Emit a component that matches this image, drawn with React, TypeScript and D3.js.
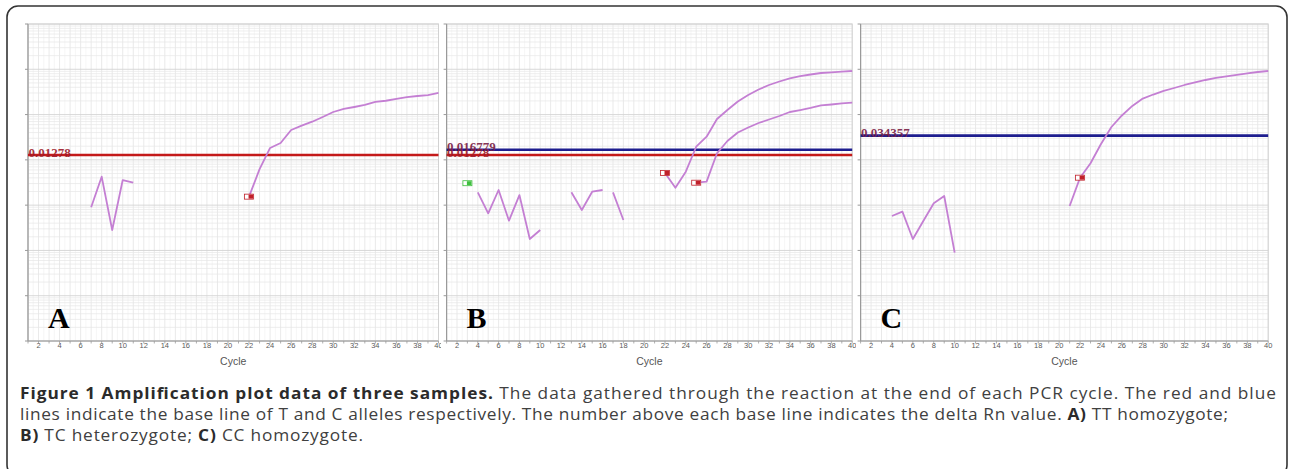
import React from "react";
import * as d3 from "d3";

// x categories (PCR cycle) and tick labels
const cycles = [1, 2, 3, 4, 5, 6, 7, 8, 9, 10, 11, 12, 13, 14, 15, 16, 17, 18, 19, 20,
  21, 22, 23, 24, 25, 26, 27, 28, 29, 30, 31, 32, 33, 34, 35, 36, 37, 38, 39, 40];
const cycleTicks = [2, 4, 6, 8, 10, 12, 14, 16, 18, 20, 22, 24, 26, 28, 30, 32, 34, 36, 38, 40];
const decades = [1e-6, 1e-5, 1e-4, 1e-3, 1e-2, 1e-1, 1, 10];

// delta Rn per cycle (null = no value on the log plot)
const curveA = [null, null, null, null, null, null, 0.000897, 0.00425, 0.000283, 0.00358,
  0.00313, null, null, null, null, null, null, null, null, null,
  null, 0.00154, 0.00622, 0.0183, 0.0236, 0.0457, 0.0568, 0.0696, 0.0885, 0.114,
  0.133, 0.147, 0.163, 0.19, 0.202, 0.221, 0.244, 0.257, 0.27, 0.3];
const curveB1 = [null, null, null, 0.00192, 0.000661, 0.00216, 0.000454, 0.00167, 0.000179, 0.000283,
  null, null, null, null, null, null, 0.00192, 0.00047, null, null,
  null, 0.00513, 0.00243, 0.00548, 0.0195, 0.0325, 0.0798, 0.126, 0.194, 0.27,
  0.358, 0.45, 0.537, 0.632, 0.703, 0.767, 0.828, 0.859, 0.889, 0.916];
const curveB2 = [null, null, null, null, null, null, null, null, null, null,
  null, null, 0.00192, 0.000783, 0.00198, 0.00216, null, null, null, null,
  null, null, null, null, 0.00313, 0.0033, 0.014, 0.0261, 0.0402, 0.0519,
  0.0652, 0.0778, 0.0931, 0.114, 0.126, 0.14, 0.159, 0.167, 0.176, 0.183];
const curveC = [null, null, null, 0.000577, 0.000718, 0.000179, 0.000447, 0.0011, 0.00159, 0.0000891,
  null, null, null, null, null, null, null, null, null, null,
  0.000958, 0.00404, 0.0084, 0.0224, 0.0532, 0.0955, 0.155, 0.226, 0.277, 0.332,
  0.386, 0.45, 0.511, 0.58, 0.643, 0.7, 0.755, 0.815, 0.871, 0.916];

// thresholds (delta Rn) : T allele red, C allele blue
const thresholdsA = [{ allele: "T", value: 0.01278, label: "0.01278" }];
const thresholdsB = [
  { allele: "T", value: 0.01278, label: "0.01278" },
  { allele: "C", value: 0.016779, label: "0.016779" },
];
const thresholdsC = [{ allele: "C", value: 0.034357, label: "0.034357" }];

// Ct markers
const markersA = [{ cycle: 22, value: 0.00154, kind: "ct" }];
const markersB = [
  { cycle: 3, value: 0.00305, kind: "start" },
  { cycle: 22, value: 0.00513, kind: "ct" },
  { cycle: 25, value: 0.00313, kind: "ct" },
];
const markersC = [{ cycle: 22, value: 0.00404, kind: "ct" }];

const panels = [
  { letter: "A", curves: [curveA], thresholds: thresholdsA, markers: markersA, x0: 28, x1: 438.5, bg: 22 },
  { letter: "B", curves: [curveB1, curveB2], thresholds: thresholdsB, markers: markersB, x0: 446.6, x1: 852.2, bg: 441 },
  { letter: "C", curves: [curveC], thresholds: thresholdsC, markers: markersC, x0: 860.6, x1: 1268.2, bg: 856 },
];

const W = 1289;
const H = 469;
const top = 24;
const bottom = 341;

const y = d3.scaleLog().domain([1e-6, 10]).range([bottom, top]);
const minorTicks = decades.slice(0, -1).flatMap(d => [2, 3, 4, 5, 6, 7, 8, 9].map(k => d * k));

const lineColor = { T: "#c41a1a", C: "#1e1e8f" };

const Panel = ({ p }) => {
  const x = d3.scaleLinear().domain([1, 40]).range([p.x0, p.x1]);
  const line = d3.line()
    .defined(d => d[1] != null)
    .x(d => x(d[0]))
    .y(d => y(d[1]));
  const cx = (p.x0 + p.x1) / 2;
  return (
    <g>
      <rect x={p.bg} y={18} width={p.x1 - p.bg + 3} height={356} fill="#fff" />
      {cycles.map(c => (
        <line key={"v" + c} x1={x(c)} x2={x(c)} y1={top} y2={bottom} stroke="#e3e3e3" strokeWidth={0.8} />
      ))}
      {cycles.slice(0, -1).map(c => (
        <line key={"vh" + c} x1={x(c + 0.5)} x2={x(c + 0.5)} y1={top} y2={bottom} stroke="#f0f0f0" strokeWidth={0.6} />
      ))}
      {minorTicks.map((t, i) => (
        <line key={"m" + i} x1={p.x0} x2={p.x1} y1={y(t)} y2={y(t)} stroke="#e6e6e6" strokeWidth={0.7} />
      ))}
      {decades.map(t => (
        <line key={"d" + t} x1={p.x0} x2={p.x1} y1={y(t)} y2={y(t)} stroke="#d4d4d4" strokeWidth={0.9} />
      ))}
      <rect x={p.x0} y={top} width={p.x1 - p.x0} height={bottom - top} fill="none" stroke="#d2d2d2" strokeWidth={1} />
      <line x1={p.x0} x2={p.x0} y1={top} y2={bottom} stroke="#9a9a9a" strokeWidth={1.2} />
      <line x1={p.x0} x2={p.x1} y1={bottom} y2={bottom} stroke="#9a9a9a" strokeWidth={1.2} />
      {decades.map(t => (
        <line key={"yt" + t} x1={p.x0 - 3} x2={p.x0} y1={y(t)} y2={y(t)} stroke="#9a9a9a" />
      ))}
      {cycles.map(c => (
        <line key={"xt" + c} x1={x(c)} x2={x(c)} y1={bottom} y2={bottom + 2.5} stroke="#9a9a9a" strokeWidth={0.8} />
      ))}
      {cycleTicks.map(c => (
        <text key={"xl" + c} x={x(c)} y={347.5} fontSize={7.5} fill="#5a5a5a" textAnchor="middle"
          fontFamily="Liberation Sans, Arial, sans-serif">{c}</text>
      ))}
      <text x={cx} y={365} fontSize={10.5} fill="#555" textAnchor="middle"
        fontFamily="Liberation Sans, Arial, sans-serif">Cycle</text>

      {p.thresholds.map(t => (
        <line key={"th" + t.label} x1={p.x0} x2={p.x1} y1={y(t.value)} y2={y(t.value)}
          stroke={lineColor[t.allele]} strokeWidth={2.6} />
      ))}
      {p.thresholds.map(t => (
        <text key={"tl" + t.label} x={p.x0 + 0.5} y={y(t.value) + 1.5} fontSize={13} fontWeight="bold"
          fill={t.allele === "T" ? "#9e1a2a" : "#7a2045"} fontFamily="Liberation Serif, Times New Roman, serif"
          opacity={0.9}>{t.label}</text>
      ))}

      {p.curves.map((c, i) => (
        <path key={"c" + i} d={line(cycles.map((cy, k) => [cy, c[k]]))} fill="none"
          stroke="#c47fd3" strokeWidth={1.8} strokeLinejoin="round" />
      ))}
      {p.markers.map((m, i) => {
        const mx = x(m.cycle);
        const my = y(m.value);
        const col = m.kind === "start" ? "#3fbf3f" : "#c0202a";
        return (
          <g key={"mk" + i}>
            <rect x={mx - 4.5} y={my - 2.5} width={9} height={5} fill="#fff" stroke={col} strokeWidth={0.8} />
            <rect x={mx - 0.5} y={my - 2} width={4.5} height={4} fill={col} />
          </g>
        );
      })}
      <text x={p.x0 + 20} y={328} fontSize={30} fontWeight="bold" fill="#000"
        fontFamily="Liberation Serif, Times New Roman, serif">{p.letter}</text>
    </g>
  );
};

const captionFont = "Open Sans, Noto Sans, sans-serif";
const sx = 1.08;

const App = () => {
  return (
    <svg width={W} height={H} viewBox={`0 0 ${W} ${H}`}
      style={{ position: "absolute", left: 0, top: 0, background: "#fff" }}>
      <rect x={0} y={0} width={W} height={H} fill="#fff" />
      <rect x={7} y={6} width={1280} height={470} rx={11} fill="#fff" stroke="#333" strokeWidth={1.6} />
      {panels.map(p => <Panel key={p.letter} p={p} />)}
      <g fontFamily={captionFont} fontSize={16} fill="#404040" transform={`translate(20,0) scale(${sx},1)`}>
        <text x={0} y={399} textLength={1256 / sx} lengthAdjust="spacing">
          <tspan fontWeight="bold" fill="#2b2b2b">Figure 1 Amplification plot data of three samples.</tspan>
          <tspan> The data gathered through the reaction at the end of each PCR cycle. The red and blue</tspan>
        </text>
        <text x={0} y={420} textLength={1208 / sx} lengthAdjust="spacing">
          <tspan>lines indicate the base line of T and C alleles respectively. The number above each base line indicates the delta Rn value. </tspan>
          <tspan fontWeight="bold" fill="#2b2b2b">A)</tspan>
          <tspan> TT homozygote;</tspan>
        </text>
        <text x={0} y={441} textLength={343 / sx} lengthAdjust="spacing">
          <tspan fontWeight="bold" fill="#2b2b2b">B)</tspan>
          <tspan> TC heterozygote; </tspan>
          <tspan fontWeight="bold" fill="#2b2b2b">C)</tspan>
          <tspan> CC homozygote.</tspan>
        </text>
      </g>
    </svg>
  );
};

export default App;
